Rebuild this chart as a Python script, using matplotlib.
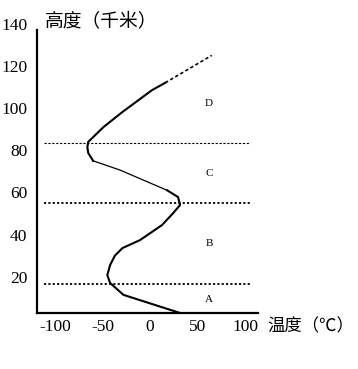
import numpy as np
import matplotlib
matplotlib.use("Agg")
import matplotlib.pyplot as plt

plt.rcParams['font.family'] = ['Liberation Serif', 'Noto Sans CJK SC']
plt.rcParams['axes.unicode_minus'] = False

# temperature profile (°C) vs height (km)
temp_solid = [31.6, -28, -42, -45, -42, -37, -29, -10.5, 12.6, 24, 31.6, 29.5, 18]
h_solid = [2.8, 11.4, 17, 20.8, 25.6, 30, 33.6, 37.4, 44.5, 50, 54, 57.8, 61]
temp_thin = [18, -31.6, -60]
h_thin = [61, 70.6, 75]
temp_upper = [-60, -61, -65, -66, -65, -49, -29.5, 2, 16]
h_upper = [75, 75.8, 78.6, 81.5, 84, 91, 98, 108.5, 112]
temp_dot = [16, 65]
h_dot = [112, 125]

# layer boundaries
boundaries = [16.6, 55, 83.4]
layer_names = ['A', 'B', 'C', 'D']
layer_h = [9, 36, 69, 102]

xticks = [-100, -50, 0, 50, 100]
yticks = [20, 40, 60, 80, 100, 120, 140]

fig = plt.figure(figsize=(3.58, 3.69), dpi=100)
ax = fig.add_axes([0.1034, 0.1518, 0.6173, 0.7952])

ax.plot(temp_solid, h_solid, color='black', lw=1.5)
ax.plot(temp_thin, h_thin, color='black', lw=0.9)
ax.plot(temp_upper, h_upper, color='black', lw=1.5)
ax.plot(temp_dot, h_dot, color='black', lw=1.2, ls=(0, (2, 1.5)))

ax.hlines(boundaries[:2], -112, 105, colors='black', lw=1.3, linestyles=(0, (1.2, 1.2)))
ax.hlines(boundaries[2], -112, 105, colors='black', lw=0.8, linestyles=(0, (2, 1.5)))

for name, h in zip(layer_names, layer_h):
    ax.text(62, h, name, fontsize=8, ha='center', va='center')

ax.set_xlim(-119, 113.7)
ax.set_ylim(2.8, 142)
ax.set_xticks(xticks)
ax.set_yticks(yticks)
ax.tick_params(length=0, labelsize=12.5)
ax.tick_params(axis='y', pad=7)
ax.tick_params(axis='x', pad=4)
for s in ['top', 'right']:
    ax.spines[s].set_visible(False)
ax.spines['left'].set_linewidth(1.6)
ax.spines['bottom'].set_linewidth(1.6)
ax.spines['left'].set_bounds(2.8, 137)

fig.text(45 / 358, 1 - 22 / 369, '高度（千米）', fontsize=13.5, ha='left', va='center',
         family=['Noto Sans CJK SC'])
fig.text(267 / 358, 1 - 326 / 369, '温度（℃）', fontsize=12.5, ha='left', va='center',
         family=['Noto Sans CJK SC'])

fig.savefig('out.png', dpi=100)
